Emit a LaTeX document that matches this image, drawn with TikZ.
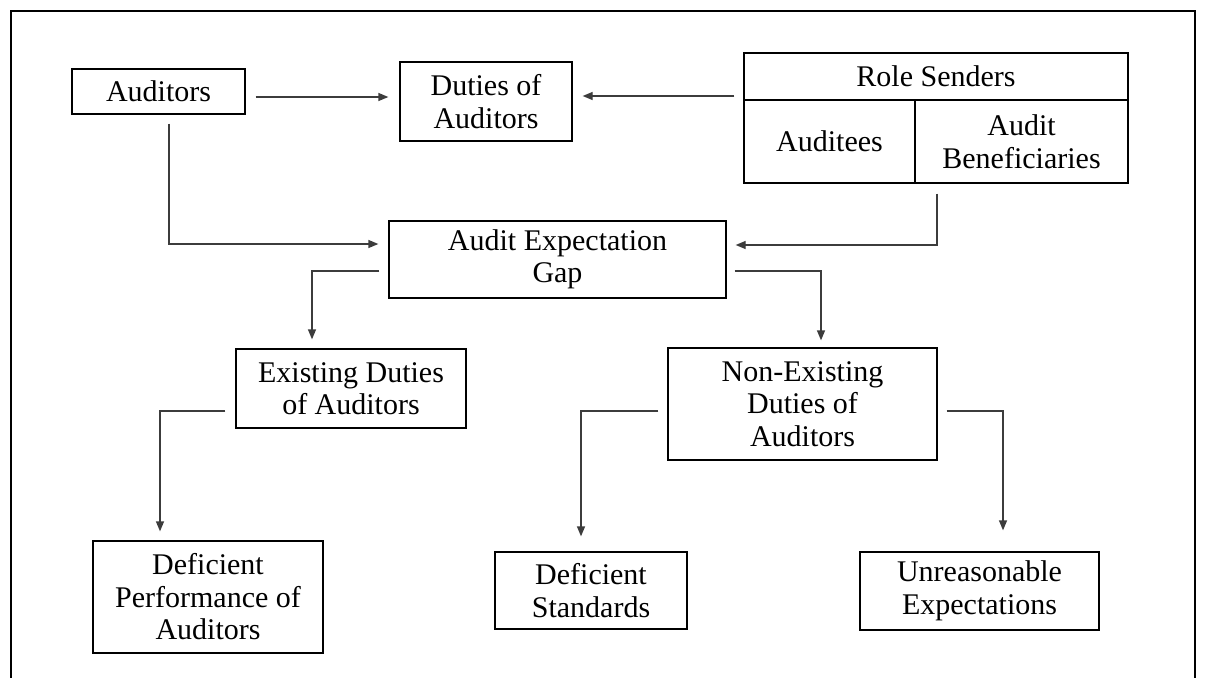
\documentclass[tikz,border=0pt]{standalone}
\usepackage{fontspec}
\setmainfont{Liberation Serif}
\usetikzlibrary{arrows.meta,calc}
\definecolor{lc}{RGB}{60,60,60}
\begin{document}
\begin{tikzpicture}[x=1pt,y=-1pt,
  box/.style={draw=black,line width=1.3pt,inner sep=0pt,align=center,font=\fontsize{30}{32.5}\selectfont},
  conn/.style={draw=lc,line width=1.3pt,-{Triangle[length=10pt,width=8pt]}},
]
\useasboundingbox (0,0) rectangle (1206,677);
\draw[line width=2pt] (11,690) -- (11,11) -- (1195,11) -- (1195,690);

\node[box,minimum width=173pt,minimum height=45pt] (aud) at (158.5,91.5) {Auditors};
\node[box,minimum width=172pt,minimum height=79pt] (dut) at (486,101.5) {Duties of\\Auditors};
\node[box,minimum width=384pt,minimum height=47pt] (rs) at (936,76.5) {Role Senders};
\node[box,minimum width=171pt,minimum height=83pt] (aee) at (829.5,141.5) {Auditees};
\node[box,minimum width=213pt,minimum height=83pt] (ben) at (1021.5,141.5) {Audit\\Beneficiaries};
\node[box,minimum width=337pt,minimum height=77pt] (aeg) at (557.5,259.5) {Audit Expectation\\Gap};
\node[box,minimum width=230pt,minimum height=79pt] (ex) at (351,388.5) {Existing Duties\\of Auditors};
\node[box,minimum width=269pt,minimum height=112pt] (nex) at (802.5,404) {Non-Existing\\Duties of\\Auditors};
\node[box,minimum width=230pt,minimum height=112pt] (dp) at (208,597) {Deficient\\Performance of\\Auditors};
\node[box,minimum width=192pt,minimum height=77pt] (ds) at (591,590.5) {Deficient\\Standards};
\node[box,minimum width=239pt,minimum height=78pt] (ur) at (979.5,591) {Unreasonable\\Expectations};

\draw[conn] ($(aud.east)+(10,5.5)$) -- ($(dut.west)+(-11,-4.5)$);
\draw[conn] ($(rs.west)+(-9,19.5)$) -- ($(dut.east)+(10,-5.5)$);
\draw[conn] ($(aud.south)+(10.5,9)$) |- ($(aeg.west)+(-10,-15.5)$);
\draw[conn] ($(ben.south)+(-84.5,10)$) |- ($(aeg.east)+(9,-14.5)$);
\draw[conn] ($(aeg.west)+(-9,11.5)$) -| ($(ex.north)+(-39,-9)$);
\draw[conn] ($(aeg.east)+(8,11.5)$) -| ($(nex.north)+(18.5,-7)$);
\draw[conn] ($(ex.west)+(-10,22.5)$) -| ($(dp.north)+(-48,-9)$);
\draw[conn] ($(nex.west)+(-9,7)$) -| ($(ds.north)+(-10,-15)$);
\draw[conn] ($(nex.east)+(9,7)$) -| ($(ur.north)+(23.5,-21)$);
\end{tikzpicture}
\end{document}
